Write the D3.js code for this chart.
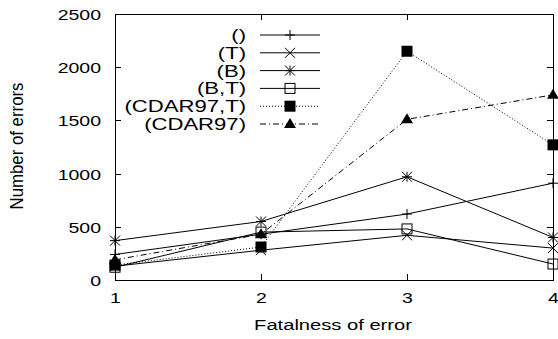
<!DOCTYPE html>
<html>
<head>
<meta charset="utf-8">
<script src="https://cdn.jsdelivr.net/npm/d3@7"></script>
<style>
  body { margin: 0; background: #fff; }
  text { font-family: "Liberation Sans", Arial, sans-serif; fill: #000; }
</style>
</head>
<body>
<svg id="chart" width="558" height="339"></svg>
<script>
// data
const fatalness = [1, 2, 3, 4];
const seriesNames = ["()", "(T)", "(B)", "(B,T)", "(CDAR97,T)", "(CDAR97)"];
const valsNone = [240, 430, 620, 910];
const valsT = [130, 280, 420, 300];
const valsB = [370, 550, 970, 400];
const valsBT = [120, 450, 480, 150];
const valsCdarT = [140, 310, 2150, 1270];
const valsCdar = [190, 430, 1510, 1740];
const yTicks = [0, 500, 1000, 1500, 2000, 2500];

const allValues = [valsNone, valsT, valsB, valsBT, valsCdarT, valsCdar];
const markers = ["plus", "cross", "star", "square", "fsquare", "triangle"];
const dashes = [null, null, null, null, "1,2", "6,3,1,3"];

const svg = d3.select("#chart");
const plotLeft = 115, plotRight = 553, plotTop = 14, plotBottom = 280;
const stretch = 1.3; // the original glyphs are wider than they are tall

const x = d3.scaleLinear().domain([1, 4]).range([plotLeft, plotRight]);
const y = d3.scaleLinear().domain([0, 2500]).range([plotBottom, plotTop]);

// helper for wide text
function wideText(tx, ty, str, anchor, size) {
    return svg.append("text")
        .attr("transform", `translate(${tx},${ty}) scale(${stretch},1)`)
        .attr("text-anchor", anchor).attr("font-size", size + "px")
        .text(str);
}

// frame
svg.append("rect")
    .attr("x", plotLeft + 0.5).attr("y", plotTop + 0.5)
    .attr("width", plotRight - plotLeft).attr("height", plotBottom - plotTop)
    .attr("fill", "none").attr("stroke", "#000").attr("stroke-width", 1);

// ticks (inward, mirrored)
const tickLen = 6;
yTicks.forEach(t => {
    const yy = Math.round(y(t)) + 0.5;
    svg.append("line").attr("x1", plotLeft).attr("x2", plotLeft + tickLen).attr("y1", yy).attr("y2", yy).attr("stroke", "#000");
    svg.append("line").attr("x1", plotRight - tickLen).attr("x2", plotRight).attr("y1", yy).attr("y2", yy).attr("stroke", "#000");
    wideText(plotLeft - 14, yy + 5, t, "end", 15);
});
fatalness.forEach(t => {
    const xx = Math.round(x(t)) + 0.5;
    svg.append("line").attr("x1", xx).attr("x2", xx).attr("y1", plotBottom).attr("y2", plotBottom - tickLen).attr("stroke", "#000");
    svg.append("line").attr("x1", xx).attr("x2", xx).attr("y1", plotTop).attr("y2", plotTop + tickLen).attr("stroke", "#000");
    wideText(xx, plotBottom + 23, t, "middle", 15);
});

// axis titles
wideText((plotLeft + plotRight) / 2 - 1, 330, "Fatalness of error", "middle", 15.5);
svg.append("text")
    .attr("transform", `translate(23, ${(plotTop + plotBottom) / 2 - 1}) rotate(-90) scale(1.12,1.25)`)
    .attr("text-anchor", "middle").attr("font-size", "15px")
    .text("Number of errors");

// marker drawing
function drawMarker(g, type, cx, cy) {
    const s = 5;
    if (type === "plus") {
        g.append("path").attr("d", `M${cx - s},${cy}H${cx + s}M${cx},${cy - s}V${cy + s}`)
            .attr("stroke", "#000").attr("fill", "none");
    } else if (type === "cross") {
        g.append("path").attr("d", `M${cx - s},${cy - s}L${cx + s},${cy + s}M${cx - s},${cy + s}L${cx + s},${cy - s}`)
            .attr("stroke", "#000").attr("fill", "none");
    } else if (type === "star") {
        g.append("path").attr("d", `M${cx - s},${cy}H${cx + s}M${cx},${cy - s}V${cy + s}M${cx - s},${cy - s}L${cx + s},${cy + s}M${cx - s},${cy + s}L${cx + s},${cy - s}`)
            .attr("stroke", "#000").attr("fill", "none");
    } else if (type === "square") {
        g.append("rect").attr("x", cx - 5).attr("y", cy - 5).attr("width", 10).attr("height", 10)
            .attr("stroke", "#000").attr("fill", "none");
    } else if (type === "fsquare") {
        g.append("rect").attr("x", cx - 5.5).attr("y", cy - 5.5).attr("width", 11).attr("height", 11)
            .attr("fill", "#000");
    } else if (type === "triangle") {
        g.append("path").attr("d", `M${cx},${cy - 6}L${cx + 6},${cy + 4}L${cx - 6},${cy + 4}Z`)
            .attr("fill", "#000");
    }
}

const line = d3.line().x((d, i) => x(fatalness[i])).y(d => y(d));

allValues.forEach((vals, k) => {
    const g = svg.append("g");
    g.append("path")
        .attr("d", line(vals))
        .attr("fill", "none").attr("stroke", "#000").attr("stroke-width", 1)
        .attr("stroke-dasharray", dashes[k]);
    vals.forEach((v, i) => drawMarker(g, markers[k], x(fatalness[i]), y(v)));
});

// legend
const legX = 246, sampleX1 = 260, sampleX2 = 320, legY0 = 35, legStep = 17.8;
seriesNames.forEach((name, k) => {
    const yy = legY0 + k * legStep;
    const g = svg.append("g");
    wideText(legX, yy + 6, name, "end", 17);
    g.append("line")
        .attr("x1", sampleX1).attr("x2", sampleX2).attr("y1", yy).attr("y2", yy)
        .attr("stroke", "#000").attr("stroke-dasharray", dashes[k]);
    drawMarker(g, markers[k], (sampleX1 + sampleX2) / 2, yy);
});
</script>
</body>
</html>
